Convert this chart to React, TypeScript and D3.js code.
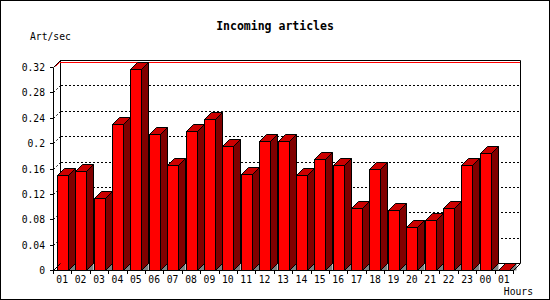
import React from "react";
import * as d3 from "d3";

const hours = ["01","02","03","04","05","06","07","08","09","10","11","12","13","14","15","16","17","18","19","20","21","22","23","00","01"];
const values = [0.149,0.156,0.114,0.230,0.317,0.214,0.165,0.219,0.238,0.195,0.152,0.203,0.203,0.149,0.175,0.165,0.098,0.159,0.095,0.068,0.079,0.098,0.165,0.184,0.0];
const yTicks = [0,0.04,0.08,0.12,0.16,0.2,0.24,0.28,0.32];
const gridTicks = [0.04,0.08,0.12,0.16,0.2,0.24,0.28];

const W = 550, H = 300;
const L = 53, R = 513, B = 270, D = 7, TOP = 67;
const FONT = "'DejaVu Sans Mono', monospace";

export default function App() {
  const x = d3.scaleBand<number>().domain(d3.range(hours.length)).range([L, R]).padding(0);
  const y = d3.scaleLinear().domain([0, 0.32]).range([B, TOP]);
  const bw = x.bandwidth();
  const barW = 11;
  const fmt = (v: number) => (v === 0 ? "0" : String(+v.toFixed(2)));
  const p = (a: number) => a + 0.5;

  return (
    <svg width={W} height={H} style={{ position: "fixed", left: 0, top: 0, background: "#fff" }} fontFamily={FONT}>
      <rect x={0.5} y={0.5} width={W - 1} height={H - 1} fill="#fff" stroke="#000" />
      <text x={275} y={30} textAnchor="middle" fontSize={11.5} fontWeight="bold">Incoming articles</text>
      <text x={30} y={40} fontSize={9.7}>Art/sec</text>
      <text x={533} y={295} textAnchor="end" fontSize={9.7}>Hours</text>

      {/* back walls */}
      <g stroke="#000" fill="none" shapeRendering="crispEdges">
        <line x1={p(L + D)} y1={B - D} x2={p(L + D)} y2={TOP - D} />
        <line x1={L + D} y1={p(B - D)} x2={R + D} y2={p(B - D)} />
      </g>
      {/* grid */}
      <g stroke="#000" strokeDasharray="2,2" fill="none">
        {gridTicks.map((t) => {
          const yy = Math.round(y(t));
          return (
            <g key={t}>
              <line x1={L + D + 1} y1={p(yy - D)} x2={R + D} y2={p(yy - D)} shapeRendering="crispEdges" />
              <line x1={p(L)} y1={p(yy)} x2={p(L + D)} y2={p(yy - D)} />
            </g>
          );
        })}
      </g>
      {/* red top line */}
      <polyline points={`${p(L + 2)},${p(TOP - 1)} ${p(L + D - 1)},${p(TOP - D + 2)} ${R + D},${p(TOP - D + 2)}`} fill="none" stroke="#ff0000" />

      {/* bars */}
      {values.map((v, i) => {
        const cx = (x(i) as number) + bw / 2;
        const x0 = Math.round(cx - barW / 2);
        const yt = Math.round(y(v));
        const x1 = x0 + barW;
        return (
          <g key={i} stroke="#000" strokeLinejoin="miter">
            <polygon points={`${p(x1)},${p(B)} ${p(x1 + D)},${p(B - D)} ${p(x1 + D)},${p(B)}`} fill="#808080" stroke="none" />
            <polygon points={`${p(x1)},${p(yt)} ${p(x1 + D)},${p(yt - D)} ${p(x1 + D)},${p(B - D)} ${p(x1)},${p(B)}`} fill="#800000" />
            <polygon points={`${p(x0)},${p(yt)} ${p(x0 + D)},${p(yt - D)} ${p(x1 + D)},${p(yt - D)} ${p(x1)},${p(yt)}`} fill="#cc0000" />
            {yt < B && <rect x={p(x0)} y={p(yt)} width={barW} height={B - yt} fill="#ff0000" />}
          </g>
        );
      })}

      {/* frame */}
      <g stroke="#000" fill="none">
        <polyline points={`${p(L)},${p(B)} ${p(L)},${p(TOP)} ${p(L + D)},${p(TOP - D)} ${p(R + D)},${p(TOP - D)} ${p(R + D)},${p(B - D)} ${p(R)},${p(B)}`} />
        <line x1={p(L)} y1={p(B)} x2={p(L + D)} y2={p(B - D)} />
        <line x1={L} y1={p(B)} x2={R + 1} y2={p(B)} shapeRendering="crispEdges" />
      </g>

      {/* y axis ticks and labels */}
      {yTicks.map((t) => {
        const yy = Math.round(y(t));
        return (
          <g key={t}>
            <line x1={50} y1={p(yy)} x2={L} y2={p(yy)} stroke="#000" shapeRendering="crispEdges" />
            <text x={45} y={yy + 4} textAnchor="end" fontSize={9.7}>{fmt(t)}</text>
          </g>
        );
      })}

      {/* x axis ticks and labels */}
      {d3.range(hours.length + 1).map((i) => {
        const xx = Math.round(L + i * bw);
        return <line key={i} x1={p(xx)} y1={B} x2={p(xx)} y2={B + 4} stroke="#000" shapeRendering="crispEdges" />;
      })}
      {hours.map((h, i) => (
        <text key={i} x={(x(i) as number) + bw / 2} y={283} textAnchor="middle" fontSize={9.7}>{h}</text>
      ))}
    </svg>
  );
}
